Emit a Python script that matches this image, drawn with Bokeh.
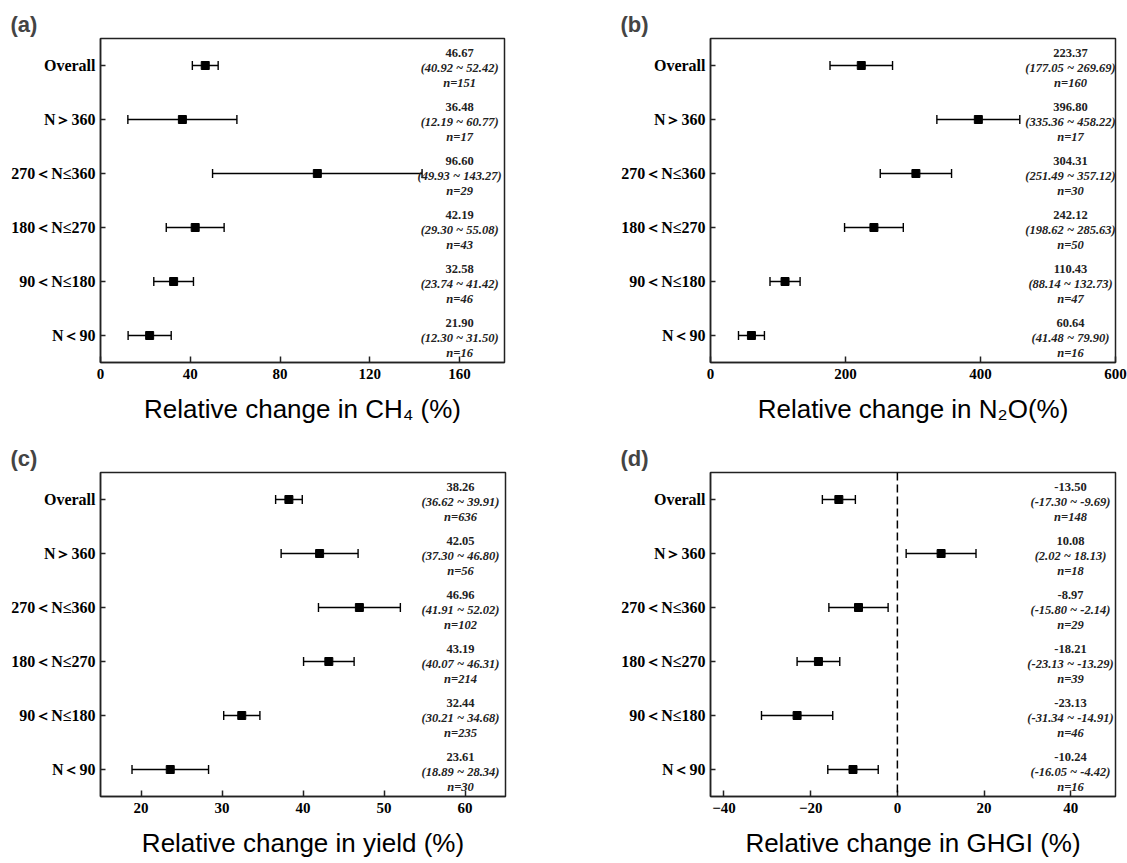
import numpy as np
from bokeh.plotting import figure
from bokeh.models import ColumnDataSource, FactorRange, Range1d, FixedTicker, Span
from bokeh.layouts import column, row
from bokeh.embed import file_html
from bokeh.resources import INLINE
from bokeh.core.properties import value

# ---------------- data ----------------
categories = ["Overall", "N＞360", "270＜N≤360", "180＜N≤270", "90＜N≤180", "N＜90"]

ch4_mean = [46.67, 36.48, 96.60, 42.19, 32.58, 21.90]
ch4_lo = [40.92, 12.19, 49.93, 29.30, 23.74, 12.30]
ch4_hi = [52.42, 60.77, 143.27, 55.08, 41.42, 31.50]
ch4_n = [151, 17, 29, 43, 46, 16]

n2o_mean = [223.37, 396.80, 304.31, 242.12, 110.43, 60.64]
n2o_lo = [177.05, 335.36, 251.49, 198.62, 88.14, 41.48]
n2o_hi = [269.69, 458.22, 357.12, 285.63, 132.73, 79.90]
n2o_n = [160, 17, 30, 50, 47, 16]

yield_mean = [38.26, 42.05, 46.96, 43.19, 32.44, 23.61]
yield_lo = [36.62, 37.30, 41.91, 40.07, 30.21, 18.89]
yield_hi = [39.91, 46.80, 52.02, 46.31, 34.68, 28.34]
yield_n = [636, 56, 102, 214, 235, 30]

ghgi_mean = [-13.50, 10.08, -8.97, -18.21, -23.13, -10.24]
ghgi_lo = [-17.30, 2.02, -15.80, -23.13, -31.34, -16.05]
ghgi_hi = [-9.69, 18.13, -2.14, -13.29, -14.91, -4.42]
ghgi_n = [148, 18, 29, 39, 46, 16]

ch4_ticks = [0, 40, 80, 120, 160]
n2o_ticks = [0, 200, 400, 600]
yield_ticks = [20, 30, 40, 50, 60]
ghgi_ticks = [-40, -20, 0, 20, 40]

SERIF = "Liberation Serif"
SANS = "Liberation Sans"


def panel(letter, mean, lo, hi, n, xr, ticks, xlabel, width, height, left, right, bottom, zero_line=False):
    p = figure(width=width, height=height, output_backend="svg", toolbar_location=None,
               x_range=Range1d(*xr), y_range=FactorRange(*categories[::-1], range_padding=0, factor_padding=0),
               min_border_left=left, min_border_right=right, min_border_top=38, min_border_bottom=bottom,
               title=letter)
    p.background_fill_color = "white"
    p.border_fill_color = "white"
    p.outline_line_color = "#222222"
    p.outline_line_width = 1.5
    p.grid.visible = False

    p.title.text_font = SANS
    p.title.text_font_size = "22px"
    p.title.text_font_style = "bold"
    p.title.align = "left"
    p.title.offset = -90
    p.title.standoff = 4

    for ax in (p.xaxis[0], p.yaxis[0]):
        ax.axis_line_color = "#222222"
        ax.axis_line_width = 1.5
        ax.major_tick_line_color = "#222222"
        ax.major_tick_line_width = 1.5
        ax.major_tick_out = 0
        ax.minor_tick_line_color = None
        ax.major_label_text_font = SERIF
        ax.major_label_text_font_style = "bold"
        ax.major_label_text_color = "black"

    p.xaxis.ticker = FixedTicker(ticks=ticks, minor_ticks=[])
    p.xaxis.major_tick_in = 6
    p.xaxis.major_label_text_font_size = "15px"
    p.xaxis.major_label_standoff = 6
    p.xaxis.axis_label = xlabel
    p.xaxis.axis_label_text_font = SANS
    p.xaxis.axis_label_text_font_style = "normal"
    p.xaxis.axis_label_text_font_size = "26px"
    p.xaxis.axis_label_text_color = "black"
    p.xaxis.axis_label_standoff = 12

    p.yaxis.major_tick_in = 5
    p.yaxis.major_label_text_font_size = "16px"
    p.yaxis.major_label_standoff = 5

    if zero_line:
        p.add_layout(Span(location=0, dimension="height", line_color="black",
                          line_width=1.5, line_dash="8 4"))

    x0, x1 = xr
    lx = x1 - 45.0 / 405.0 * (x1 - x0)
    src = ColumnDataSource(dict(
        cat=categories, mean=mean, lo=lo, hi=hi,
        lx=[lx] * len(categories),
        t1=[f"{m:.2f}" for m in mean],
        t2=[f"({a:.2f} ~ {b:.2f})" for a, b in zip(lo, hi)],
        t3=[f"n={k}" for k in n],
    ))
    p.segment(x0="lo", y0="cat", x1="hi", y1="cat", source=src, line_color="black", line_width=1.4)
    p.scatter(x="lo", y="cat", source=src, marker="dash", angle=np.pi / 2, size=9,
              line_color="black", line_width=1.4)
    p.scatter(x="hi", y="cat", source=src, marker="dash", angle=np.pi / 2, size=9,
              line_color="black", line_width=1.4)
    p.scatter(x="mean", y="cat", source=src, marker="square", size=8,
              fill_color="black", line_color="black")

    common = dict(x="lx", y="cat", source=src, text_align="center", text_baseline="middle",
                  text_font=value(SERIF), text_font_size="12.5px", text_color="#222222")
    p.text(text="t1", y_offset=-13, text_font_style="bold", **common)
    p.text(text="t2", y_offset=2, text_font_style="bold italic", **common)
    p.text(text="t3", y_offset=17, text_font_style="bold italic", **common)
    return p


pa = panel("(a)", ch4_mean, ch4_lo, ch4_hi, ch4_n, (0, 180), ch4_ticks,
           "Relative change in CH₄ (%)", 563, 434, 100, 59, 72)
pb = panel("(b)", n2o_mean, n2o_lo, n2o_hi, n2o_n, (0, 600), n2o_ticks,
           "Relative change in N₂O(%)", 564, 434, 147, 12, 72)
pc = panel("(c)", yield_mean, yield_lo, yield_hi, yield_n, (15, 65), yield_ticks,
           "Relative change in yield (%)", 563, 429, 100, 58, 67)
pd = panel("(d)", ghgi_mean, ghgi_lo, ghgi_hi, ghgi_n, (-43.1, 50.3), ghgi_ticks,
           "Relative change in GHGI (%)", 564, 429, 147, 12, 67, zero_line=True)

layout = column(row(pa, pb), row(pc, pd))
open("out.html", "w").write(file_html(layout, INLINE))
